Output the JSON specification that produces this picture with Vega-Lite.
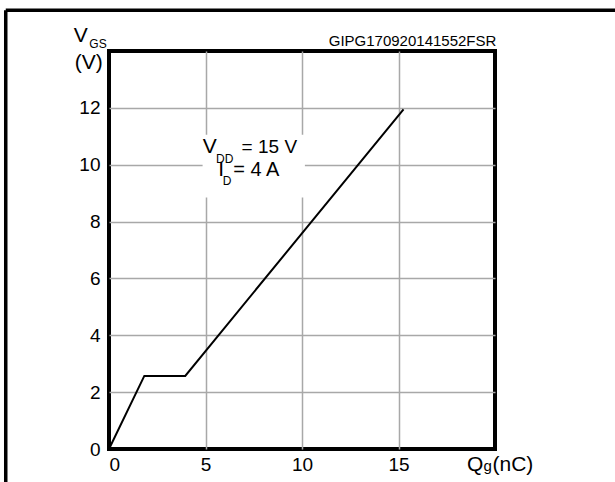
{
  "$schema": "https://vega.github.io/schema/vega-lite/v6.json",
  "autosize": "none",
  "width": 386,
  "height": 398,
  "padding": {"left": 109, "top": 51, "right": 120, "bottom": 33},
  "background": "white",
  "config": {
    "view": {"stroke": "black", "strokeWidth": 4},
    "font": "Liberation Sans",
    "text": {"font": "Liberation Sans", "color": "black"}
  },
  "datasets": {
    "curve": [
      {"qg": 0, "vgs": 0},
      {"qg": 1.83, "vgs": 2.57},
      {"qg": 3.95, "vgs": 2.57},
      {"qg": 15.26, "vgs": 11.95}
    ],
    "box": [{"x1": 4.85, "x2": 10.15, "y1": 8.85, "y2": 11.05}],
    "labels": [
      {"x": 4.86, "y": 10.41, "t": "V", "size": 21},
      {"x": 5.55, "y": 10.06, "t": "DD", "size": 12},
      {"x": 6.87, "y": 10.41, "t": "= 15 V", "size": 19},
      {"x": 5.66, "y": 9.6, "t": "I", "size": 21},
      {"x": 5.9, "y": 9.28, "t": "D", "size": 12},
      {"x": 6.44, "y": 9.6, "t": "= 4 A", "size": 20},
      {"x": -1.83, "y": 14.32, "t": "V", "size": 21},
      {"x": -1.02, "y": 14.1, "t": "GS", "size": 12},
      {"x": -1.78, "y": 13.35, "t": "(V)", "size": 21},
      {"x": 18.55, "y": -0.76, "t": "Q", "size": 21},
      {"x": 19.4, "y": -0.76, "t": "g", "size": 15},
      {"x": 19.87, "y": -0.76, "t": "(nC)", "size": 21}
    ],
    "rlabels": [
      {"x": 20.07, "y": 14.17, "t": "GIPG170920141552FSR", "size": 15}
    ],
    "title": [
      {"x": -4.08, "y": 16.06, "t": "Figure 9: Gate charge vs gate-source voltage", "size": 26}
    ],
    "frame": [
      {"x1": -5.35, "x2": -5.35, "y1": -1.5, "y2": 15.43},
      {"x1": -5.35, "x2": 26.5, "y1": 15.43, "y2": 15.43}
    ]
  },
  "layer": [
    {
      "data": {"name": "box"},
      "mark": {"type": "rect", "fill": "white", "stroke": null},
      "encoding": {
        "x": {"field": "x1", "type": "quantitative", "scale": {"domain": [0, 20], "nice": false, "zero": false},
          "axis": {"values": [0, 5, 10, 15], "grid": true, "gridColor": "#a8a8a8", "gridWidth": 1.5,
            "gridOpacity": {"condition": {"test": "datum.value == 0", "value": 0}, "value": 1},
            "domain": false, "ticks": false, "labelFontSize": 19, "labelColor": "black", "labelFont": "Liberation Sans",
            "labelPadding": 6, "title": null}},
        "x2": {"field": "x2"},
        "y": {"field": "y1", "type": "quantitative", "scale": {"domain": [0, 14], "nice": false, "zero": false},
          "axis": {"values": [0, 2, 4, 6, 8, 10, 12], "grid": true, "gridColor": "#a8a8a8", "gridWidth": 1.5,
            "gridOpacity": {"condition": {"test": "datum.value == 0", "value": 0}, "value": 1},
            "domain": false, "ticks": false, "labelFontSize": 19, "labelColor": "black", "labelFont": "Liberation Sans",
            "labelPadding": 9, "title": null}},
        "y2": {"field": "y2"}
      }
    },
    {
      "data": {"name": "curve"},
      "mark": {"type": "line", "color": "black", "strokeWidth": 2},
      "encoding": {
        "x": {"field": "qg", "type": "quantitative"},
        "y": {"field": "vgs", "type": "quantitative"}
      }
    },
    {
      "data": {"name": "frame"},
      "mark": {"type": "rule", "color": "black", "strokeWidth": 3.5, "clip": false},
      "encoding": {
        "x": {"field": "x1", "type": "quantitative"},
        "x2": {"field": "x2"},
        "y": {"field": "y1", "type": "quantitative"},
        "y2": {"field": "y2"}
      }
    },
    {
      "data": {"name": "labels"},
      "mark": {"type": "text", "baseline": "alphabetic", "align": "left", "clip": false},
      "encoding": {
        "x": {"field": "x", "type": "quantitative"},
        "y": {"field": "y", "type": "quantitative"},
        "text": {"field": "t"},
        "size": {"field": "size", "type": "quantitative", "scale": null}
      }
    },
    {
      "data": {"name": "rlabels"},
      "mark": {"type": "text", "baseline": "alphabetic", "align": "right", "clip": false},
      "encoding": {
        "x": {"field": "x", "type": "quantitative"},
        "y": {"field": "y", "type": "quantitative"},
        "text": {"field": "t"},
        "size": {"field": "size", "type": "quantitative", "scale": null}
      }
    },
    {
      "data": {"name": "title"},
      "mark": {"type": "text", "baseline": "alphabetic", "align": "left", "fontWeight": "bold", "clip": false},
      "encoding": {
        "x": {"field": "x", "type": "quantitative"},
        "y": {"field": "y", "type": "quantitative"},
        "text": {"field": "t"},
        "size": {"field": "size", "type": "quantitative", "scale": null}
      }
    }
  ]
}
